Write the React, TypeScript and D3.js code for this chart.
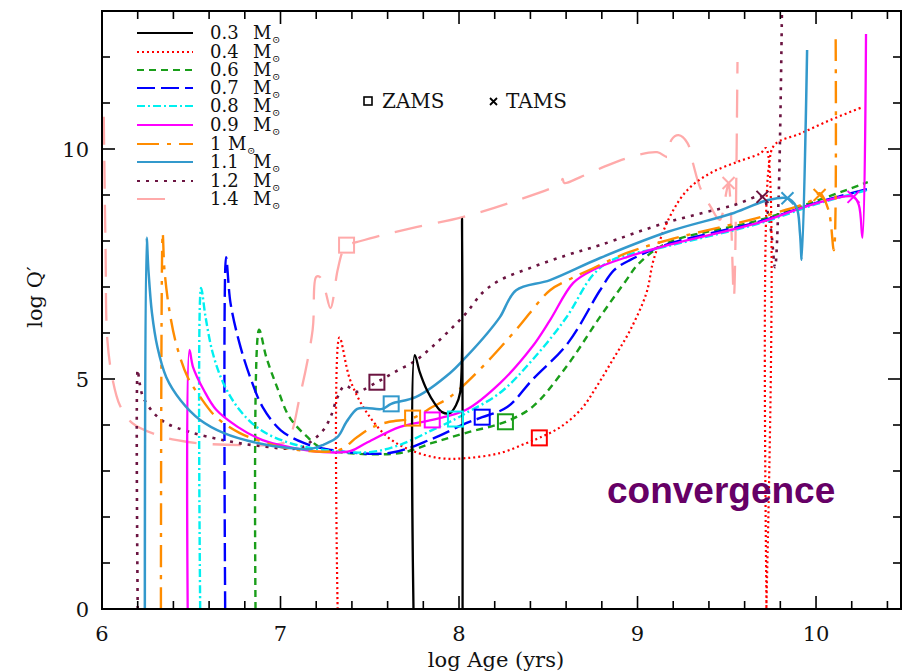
import React from "react";
import * as d3 from "d3";

// ---- data: log Age (yr) vs log Q' for each stellar mass track ----
const massLabels = ["0.3", "0.4", "0.6", "0.7", "0.8", "0.9", "1", "1.1", "1.2", "1.4"];

const track03: [number, number][] = [
  [7.745, 0], [7.752, 5.52], [7.78, 5.15], [7.82, 4.76], [7.865, 4.46], [7.905, 4.28],
  [7.95, 4.26], [7.983, 4.43], [8.006, 4.7], [8.017, 8.48], [8.02, 0],
];

const track04: [number, number][] = [
  [7.32, 0], [7.33, 5.9], [7.39, 4.98], [7.485, 4.26], [7.6, 3.74], [7.725, 3.46],
  [7.89, 3.28], [8.04, 3.28], [8.23, 3.39], [8.38, 3.61], [8.45, 3.72], [8.57, 3.96],
  [8.69, 4.37], [8.77, 4.83], [8.86, 5.41], [8.96, 6.07], [9.05, 6.87], [9.09, 7.59],
  [9.18, 8.52], [9.28, 9.11], [9.41, 9.48], [9.56, 9.72], [9.69, 9.91], [9.72, 10.02],
  [9.722, 0], [9.735, 9.6], [9.77, 10.1], [9.91, 10.33], [10.08, 10.63], [10.26, 10.91],
];

const track06: [number, number][] = [
  [6.86, 0], [6.88, 6.07], [6.92, 5.48], [6.98, 4.83], [7.05, 4.17], [7.15, 3.74],
  [7.22, 3.52], [7.33, 3.41], [7.67, 3.39], [7.85, 3.61], [8.04, 3.83], [8.26, 4.07],
  [8.41, 4.39], [8.6, 5.26], [8.79, 6.35], [8.93, 7.11], [9.01, 7.52], [9.17, 7.96],
  [9.69, 8.46], [10.0, 8.87], [10.29, 9.28],
];

const track07: [number, number][] = [
  [6.69, 0], [6.695, 7.65], [6.72, 6.65], [6.77, 5.78], [6.83, 5.04], [6.9, 4.39],
  [7.0, 3.89], [7.13, 3.61], [7.28, 3.46], [7.61, 3.39], [7.85, 3.7], [8.04, 4.04],
  [8.13, 4.17], [8.27, 4.39], [8.41, 4.98], [8.61, 5.78], [8.79, 6.93], [8.87, 7.37],
  [8.96, 7.59], [9.17, 7.93], [9.69, 8.43], [10.0, 8.83], [10.31, 9.15],
];

const track08: [number, number][] = [
  [6.55, 0], [6.555, 6.98], [6.58, 6.35], [6.62, 5.57], [6.68, 4.91], [6.77, 4.33],
  [6.89, 3.89], [7.05, 3.61], [7.24, 3.46], [7.5, 3.41], [7.67, 3.57], [7.85, 3.89],
  [7.98, 4.13], [8.04, 4.26], [8.23, 4.7], [8.41, 5.41], [8.6, 6.33], [8.75, 7.26],
  [8.86, 7.59], [9.17, 7.89], [9.69, 8.39], [10.0, 8.8], [10.29, 9.11],
];

const track09: [number, number][] = [
  [6.48, 0], [6.49, 5.63], [6.51, 5.26], [6.57, 4.76], [6.64, 4.33], [6.76, 3.96],
  [6.9, 3.67], [7.05, 3.52], [7.24, 3.41], [7.39, 3.43], [7.48, 3.61], [7.67, 3.96],
  [7.85, 4.11], [8.04, 4.33], [8.23, 4.91], [8.41, 5.7], [8.51, 6.28], [8.64, 7.09],
  [8.75, 7.37], [8.94, 7.65], [9.17, 7.91], [9.69, 8.41], [10.0, 8.82], [10.21, 8.96],
  [10.24, 8.78], [10.26, 8.07], [10.28, 12.5],
];

const track10: [number, number][] = [
  [6.33, 0], [6.34, 8.17], [6.35, 7.37], [6.38, 6.43], [6.42, 5.7], [6.48, 5.04],
  [6.55, 4.61], [6.64, 4.17], [6.77, 3.83], [6.92, 3.61], [7.09, 3.46], [7.33, 3.46],
  [7.43, 3.74], [7.52, 3.96], [7.61, 4.07], [7.74, 4.15], [7.85, 4.39], [7.95, 4.61],
  [8.13, 5.26], [8.32, 6.07], [8.51, 6.93], [8.61, 7.15], [8.73, 7.37], [8.94, 7.74],
  [9.17, 8.02], [9.69, 8.52], [9.98, 8.89], [10.02, 9.04], [10.07, 8.67], [10.1, 7.8],
  [10.11, 12.41],
];

const track11: [number, number][] = [
  [6.24, 0], [6.25, 8.07], [6.26, 7.37], [6.28, 6.43], [6.31, 5.7], [6.36, 5.04],
  [6.44, 4.54], [6.55, 4.11], [6.68, 3.83], [6.87, 3.61], [7.05, 3.5], [7.17, 3.48],
  [7.24, 3.57], [7.32, 3.74], [7.37, 4.07], [7.43, 4.35], [7.48, 4.37], [7.57, 4.35],
  [7.62, 4.46], [7.76, 4.61], [7.95, 5.13], [8.04, 5.48], [8.16, 6.0], [8.23, 6.35],
  [8.32, 6.93], [8.51, 7.15], [8.79, 7.63], [9.17, 8.2], [9.54, 8.61], [9.73, 8.89],
  [9.84, 8.93], [9.89, 8.74], [9.91, 8.17], [9.92, 7.59], [9.95, 12.15],
];

const track12: [number, number][] = [
  [6.2, 0], [6.2, 5.2], [6.21, 4.93], [6.23, 4.61], [6.29, 4.26], [6.36, 4.04],
  [6.49, 3.85], [6.68, 3.67], [6.87, 3.55], [7.11, 3.5], [7.18, 3.67], [7.24, 3.89],
  [7.28, 4.17], [7.32, 4.61], [7.36, 4.85], [7.43, 4.72], [7.46, 4.76], [7.54, 4.93],
  [7.63, 5.13], [7.76, 5.41], [7.85, 5.7], [7.95, 6.07], [8.04, 6.43], [8.13, 6.87],
  [8.23, 7.15], [8.41, 7.43], [8.61, 7.7], [8.79, 7.91], [9.17, 8.41], [9.54, 8.78],
  [9.7, 8.96], [9.73, 8.61], [9.75, 8.17], [9.77, 7.43], [9.79, 8.89], [9.81, 13.3],
];

const track14: [number, number][] = [
  [6.01, 10.7], [6.02, 7.8], [6.03, 5.85], [6.06, 4.98], [6.1, 4.43], [6.17, 4.04],
  [6.31, 3.78], [6.42, 3.67], [6.55, 3.6], [6.8, 3.56], [6.98, 3.58], [7.04, 3.67],
  [7.11, 4.65], [7.18, 6.07], [7.2, 7.22], [7.22, 7.22], [7.25, 6.93], [7.28, 6.54],
  [7.32, 7.37], [7.35, 7.8], [7.37, 7.91], [7.43, 7.98], [7.57, 8.13], [7.76, 8.3],
  [8.02, 8.52], [8.3, 8.85], [8.57, 9.26], [8.58, 9.35], [8.59, 9.26], [8.68, 9.39],
  [8.81, 9.61], [8.94, 9.8], [9.11, 9.93], [9.17, 9.83], [9.19, 10.2], [9.23, 10.3],
  [9.28, 10.13], [9.31, 9.7], [9.35, 9.17], [9.41, 8.74], [9.46, 8.46], [9.5, 9.11],
  [9.51, 9.26], [9.52, 8.89], [9.54, 6.78], [9.56, 11.89],
];

// zero-age and terminal-age main sequence points
const zamsPoints: [number, number, string][] = [
  [8.45, 3.72, "0.4"], [8.26, 4.07, "0.6"], [8.13, 4.17, "0.7"], [7.98, 4.13, "0.8"],
  [7.85, 4.11, "0.9"], [7.74, 4.15, "1"], [7.62, 4.46, "1.1"], [7.54, 4.93, "1.2"],
  [7.37, 7.91, "1.4"],
];
const tamsPoints: [number, number, string][] = [
  [9.7, 8.96, "1.2"], [9.51, 9.26, "1.4"], [9.84, 8.93, "1.1"], [10.02, 9.0, "1"], [10.21, 8.96, "0.9"],
];

const xMajor = [6, 7, 8, 9, 10];
const yMajor = [0, 5, 10];

// ---- styling per track ----
const styles: Record<string, { color: string; dash: string; width: number }> = {
  "0.3": { color: "#000000", dash: "none", width: 2.3 },
  "0.4": { color: "#ff0000", dash: "2,3", width: 2.2 },
  "0.6": { color: "#1a9e1a", dash: "7,5", width: 2.4 },
  "0.7": { color: "#0000ff", dash: "18,6", width: 2.4 },
  "0.8": { color: "#00f0f0", dash: "8,3,2,3", width: 2.4 },
  "0.9": { color: "#ff00ff", dash: "none", width: 2.3 },
  "1": { color: "#ff8c00", dash: "22,8,4,8", width: 2.4 },
  "1.1": { color: "#3399cc", dash: "none", width: 2.5 },
  "1.2": { color: "#6b1441", dash: "3,6", width: 2.6 },
  "1.4": { color: "#ffaaaa", dash: "28,16", width: 2.3 },
};

const trackData: Record<string, [number, number][]> = {
  "0.3": track03, "0.4": track04, "0.6": track06, "0.7": track07, "0.8": track08,
  "0.9": track09, "1": track10, "1.1": track11, "1.2": track12, "1.4": track14,
};
const drawOrder = ["1.4", "1.2", "0.4", "0.6", "0.7", "0.8", "0.9", "1", "1.1", "0.3"];

export default function App() {
  const W = 902, H = 672;
  const left = 102, right = 901, top = 11, bottom = 609;
  const x = d3.scaleLinear().domain([6, 10.476]).range([left, right]);
  const y = d3.scaleLinear().domain([0, 13]).range([bottom, top]);
  const line = d3
    .line<[number, number]>()
    .x((d) => x(d[0]))
    .y((d) => y(d[1]))
    .curve(d3.curveCatmullRom.alpha(0.5));

  const xMinor = d3.range(6, 10.48, 0.2);
  const yMinor = d3.range(0, 13.01, 1);
  const serif = "'DejaVu Serif', serif";
  const legendY = [33, 52, 70, 88, 106, 125, 144, 162, 181, 199];

  return (
    <svg width={W} height={H} style={{ position: "absolute", left: 0, top: 0, background: "#fff" }}>
      <defs>
        <clipPath id="plot">
          <rect x={left} y={top} width={right - left} height={bottom - top} />
        </clipPath>
      </defs>

      <g clipPath="url(#plot)" fill="none">
        {drawOrder.map((m) => (
          <path
            key={m}
            d={line(trackData[m]) || ""}
            stroke={styles[m].color}
            strokeWidth={styles[m].width}
            strokeDasharray={styles[m].dash}
            strokeLinejoin="round"
          />
        ))}
        {zamsPoints.map(([a, b, m], i) => (
          <rect key={"z" + i} x={x(a) - 7.5} y={y(b) - 7.5} width={15} height={15}
            stroke={styles[m].color} strokeWidth={2} fill="none" />
        ))}
        {tamsPoints.map(([a, b, m], i) => (
          <path key={"t" + i}
            d={`M${x(a) - 6},${y(b) - 6}L${x(a) + 6},${y(b) + 6}M${x(a) - 6},${y(b) + 6}L${x(a) + 6},${y(b) - 6}`}
            stroke={styles[m].color} strokeWidth={2} />
        ))}
      </g>

      {/* frame and ticks */}
      <rect x={left} y={top} width={right - left} height={bottom - top} fill="none" stroke="#000" strokeWidth={2} />
      {xMinor.map((v, i) => {
        const major = xMajor.some((t) => Math.abs(t - v) < 1e-6);
        const len = major ? 13 : 8;
        return (
          <g key={"xt" + i} stroke="#000" strokeWidth={1.6}>
            <line x1={x(v)} x2={x(v)} y1={bottom} y2={bottom - len} />
            <line x1={x(v)} x2={x(v)} y1={top} y2={top + len} />
          </g>
        );
      })}
      {yMinor.map((v, i) => {
        const major = yMajor.includes(v);
        const len = major ? 13 : 8;
        return (
          <g key={"yt" + i} stroke="#000" strokeWidth={1.6}>
            <line x1={left} x2={left + len} y1={y(v)} y2={y(v)} />
            <line x1={right} x2={right - len} y1={y(v)} y2={y(v)} />
          </g>
        );
      })}
      {xMajor.map((v) => (
        <text key={"xl" + v} x={x(v)} y={641} textAnchor="middle" fontFamily={serif} fontSize={21} fill="#111">{v}</text>
      ))}
      {yMajor.map((v) => (
        <text key={"yl" + v} x={89} y={y(v) + 8} textAnchor="end" fontFamily={serif} fontSize={21} fill="#111">{v}</text>
      ))}
      <text x={496} y={667} textAnchor="middle" fontFamily={serif} fontSize={21} fill="#111">log Age (yrs)</text>
      <text transform="translate(42,297) rotate(-90)" textAnchor="middle" fontFamily={serif} fontSize={21} fill="#111">log Q′</text>

      {/* legend */}
      {massLabels.map((m, i) => {
        const s = styles[m];
        const ly = legendY[i];
        const mx = m === "1" ? 228 : 253;
        return (
          <g key={"lg" + m}>
            <line x1={137} x2={m === "1.4" ? 167 : 193} y1={ly} y2={ly} stroke={s.color}
              strokeWidth={2} strokeDasharray={s.dash} />
            <text y={ly + 6} fontFamily={serif} fontSize={18} fill="#111">
              <tspan x={210}>{m}</tspan>
              <tspan x={mx}>M</tspan>
              <tspan x={mx + 19} dy={4} fontSize={10}>⊙</tspan>
            </text>
          </g>
        );
      })}

      {/* marker key */}
      <rect x={364} y={97} width={8} height={8} fill="none" stroke="#000" strokeWidth={1.6} />
      <text x={382} y={108} fontFamily={serif} fontSize={20} fill="#111">ZAMS</text>
      <path d="M490,98L497,105M490,105L497,98" stroke="#000" strokeWidth={1.8} />
      <text x={506} y={108} fontFamily={serif} fontSize={20} fill="#111">TAMS</text>

      <text x={607} y={503} fontFamily="'Liberation Sans', Arial, sans-serif" fontWeight="bold"
        fontSize={37} fill="#660066">convergence</text>
    </svg>
  );
}
